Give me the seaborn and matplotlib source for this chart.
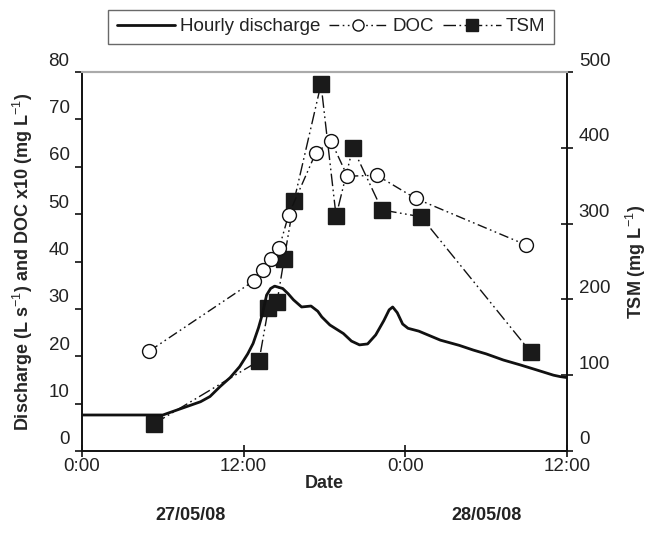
import matplotlib
matplotlib.use("Agg")
import matplotlib.pyplot as plt
import matplotlib.transforms as mtransforms
import seaborn as sns
import pandas as pd
from matplotlib.lines import Line2D

# ---- data (hours since 0:00 on 27/05/08) ----
q_hours = [0, 6.0, 7.0, 8.0, 8.8, 9.5, 10.25, 11.0, 11.7, 12.3, 12.7, 13.1, 13.4, 13.7,
           14.0, 14.3, 14.9, 15.3, 15.7, 16.3, 17.0, 17.5, 17.8, 18.4, 19.4, 20.0, 20.6,
           21.2, 21.8, 22.4, 22.8, 23.06, 23.4, 23.8, 24.2, 25.0, 26.6, 28.0, 29.05, 30.0,
           31.28, 32.5, 33.76, 35.0, 35.5, 36.0]
q_values = [7.6, 7.6, 8.6, 9.6, 10.4, 11.5, 13.6, 15.5, 17.8, 20.5, 22.7, 26.0, 29.0, 32.9,
            34.3, 34.8, 34.3, 33.2, 31.9, 30.4, 30.6, 29.5, 28.3, 26.6, 24.8, 23.2, 22.4,
            22.6, 24.5, 27.5, 29.8, 30.4, 29.2, 26.8, 25.9, 25.3, 23.4, 22.3, 21.3, 20.5,
            19.2, 18.2, 17.1, 16.0, 15.7, 15.5]

doc_hours = [5.0, 12.75, 13.46, 14.03, 14.63, 15.34, 17.35, 18.49, 19.7, 21.88, 24.77, 32.96]
doc_x10 = [21.1, 35.9, 38.3, 40.5, 42.8, 49.9, 62.9, 65.4, 58.0, 58.2, 53.3, 43.5]

tsm_hours = [5.35, 13.14, 13.83, 14.48, 15.0, 15.74, 17.74, 18.86, 20.1, 22.27, 25.17, 33.33]
tsm_values = [36, 119, 188, 197, 253, 330, 484, 310, 400, 318, 309, 130]

x_ticks = [0, 12, 24, 36]
x_ticklabels = ["0:00", "12:00", "0:00", "12:00"]
date_labels = ["27/05/08", "28/05/08"]

# ---- style ----
sns.set_style("ticks")
plt.rcParams["font.family"] = ["Liberation Sans", "DejaVu Sans"]
plt.rcParams["mathtext.fontset"] = "custom"
plt.rcParams["mathtext.rm"] = "Liberation Sans"
plt.rcParams["mathtext.bf"] = "Liberation Sans:bold"

fig = plt.figure(figsize=(6.52, 5.54), dpi=100)
W, H = 652, 554
ax = fig.add_axes([82 / W, 1 - 451 / H, 485 / W, 379 / H])
ax2 = ax.twinx()

dfq = pd.DataFrame({"t": q_hours, "v": q_values})
dfd = pd.DataFrame({"t": doc_hours, "v": doc_x10})
dft = pd.DataFrame({"t": tsm_hours, "v": tsm_values})

doc_dash = (0, (7, 2.5, 1.2, 2.5, 1.2, 2.5))
tsm_dash = (0, (9, 2.5, 1.2, 2.5, 1.2, 2.5))

sns.lineplot(data=dfq, x="t", y="v", ax=ax, color="#111111", lw=2.0,
             sort=False, estimator=None, legend=False, zorder=3)
sns.lineplot(data=dfd, x="t", y="v", ax=ax, color="#111111", lw=1.0,
             sort=False, estimator=None, legend=False, zorder=4)
ax.lines[-1].set_linestyle(doc_dash)
ax.plot(doc_hours, doc_x10, ls="none", marker="o", ms=10, mfc="white",
        mec="#111111", mew=1.0, zorder=5)

sns.lineplot(data=dft, x="t", y="v", ax=ax2, color="#111111", lw=1.0,
             sort=False, estimator=None, legend=False, zorder=4)
ax2.lines[-1].set_linestyle(tsm_dash)
ax2.plot(tsm_hours, tsm_values, ls="none", marker="s", ms=11, mfc="#1a1a1a",
         mec="#1a1a1a", zorder=5)

# axes limits and ticks
ax.set_xlim(0, 36)
ax.set_ylim(0, 80)
ax2.set_ylim(0, 500)
ax.set_xticks(x_ticks)
ax.set_xticklabels(x_ticklabels)
ax.set_yticks(range(0, 81, 10))
ax2.set_yticks(range(0, 501, 100))

for a in (ax, ax2):
    for s in a.spines.values():
        s.set_color("#111111")
        s.set_linewidth(1.2)
    a.spines["top"].set_color("#aaaaaa")
    a.spines["top"].set_linewidth(1.5)

ax.tick_params(axis="y", direction="out", length=5, width=1.2, labelsize=13.5,
               pad=4, colors="#111111", labelcolor="#222222")
ax.tick_params(axis="x", direction="inout", length=8, width=1.2, labelsize=13.5,
               pad=1, colors="#111111", labelcolor="#222222")
ax2.tick_params(axis="y", direction="inout", length=9, width=1.2, labelsize=13.5,
                pad=4, colors="#111111", labelcolor="#222222")

# y tick labels sit slightly above their ticks in the reference
shift = mtransforms.ScaledTranslation(0, 13 / 100, fig.dpi_scale_trans)
for lab in ax.get_yticklabels() + ax2.get_yticklabels():
    lab.set_transform(lab.get_transform() + shift)

ax.set_xlabel("Date", fontsize=13, fontweight="bold", labelpad=0)
ax.set_ylabel(r"Discharge (L s$^{-1}$) and DOC x10 (mg L$^{-1}$)",
              fontsize=13, fontweight="bold", labelpad=10)
ax2.set_ylabel(r"TSM (mg L$^{-1}$)", fontsize=13, fontweight="bold", labelpad=10)
ax.set_zorder(ax2.get_zorder() + 1)
ax.patch.set_visible(False)

# date labels
fig.text(191 / W, 1 - 516 / H, date_labels[0], ha="center", va="center",
         fontsize=13, fontweight="bold", color="#222222")
fig.text(486 / W, 1 - 516 / H, date_labels[1], ha="center", va="center",
         fontsize=13, fontweight="bold", color="#222222")

# legend
handles = [
    Line2D([], [], color="#111111", lw=2.0),
    Line2D([], [], color="#111111", lw=1.0, ls=doc_dash, marker="o", ms=8,
           mfc="white", mec="#111111", markevery=[1]),
    Line2D([], [], color="#111111", lw=1.0, ls=tsm_dash, marker="s", ms=8,
           mfc="#1a1a1a", mec="#1a1a1a", markevery=[1]),
]
labels = ["Hourly discharge", "DOC", "TSM"]
leg = fig.legend(handles, labels, loc="center", bbox_to_anchor=(331 / W, 1 - 26.5 / H),
                 ncol=3, frameon=True, fancybox=False, edgecolor="#444444",
                 fontsize=13.5, handlelength=3.1, handletextpad=0.25,
                 columnspacing=0.5, borderpad=0.45, borderaxespad=0.2)
leg.get_frame().set_linewidth(1.0)
for t in leg.get_texts():
    t.set_color("#222222")

fig.savefig("out.png", dpi=100)
